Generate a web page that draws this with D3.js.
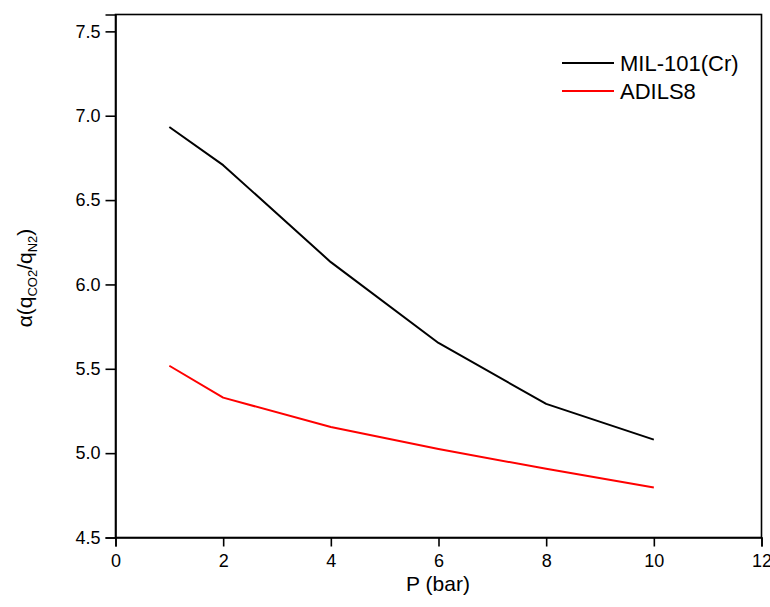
<!DOCTYPE html>
<html>
<head>
<meta charset="utf-8">
<script src="https://cdn.jsdelivr.net/npm/d3@7"></script>
<style>
  html, body { margin: 0; padding: 0; background: #fff; }
  svg { display: block; font-family: Arial, "Liberation Sans", sans-serif; }
</style>
</head>
<body>
<svg id="chart" width="770" height="607"></svg>
<script>
const pressure = [1, 2, 4, 6, 8, 10];
const milValues = [6.933, 6.707, 6.132, 5.653, 5.292, 5.080];
const adilsValues = [5.518, 5.329, 5.155, 5.025, 4.907, 4.797];
const seriesNames = ["MIL-101(Cr)", "ADILS8"];
const seriesColors = ["#000000", "#ff0000"];
const xTicks = [0, 2, 4, 6, 8, 10, 12];
const yTicks = [4.5, 5.0, 5.5, 6.0, 6.5, 7.0, 7.5];

const svg = d3.select("#chart");
const m = { left: 115.5, right: 770 - 761.5, top: 14.5, bottom: 607 - 537.5 };
const W = 770, H = 607;

const x = d3.scaleLinear().domain([0, 12]).range([m.left, W - m.right]);
const y = d3.scaleLinear().domain([4.5, 7.6]).range([H - m.bottom, m.top]);

// frame
svg.append("rect")
  .attr("x", m.left).attr("y", m.top)
  .attr("width", x(12) - m.left).attr("height", (H - m.bottom) - m.top)
  .attr("fill", "none").attr("stroke", "#000").attr("stroke-width", 1.6);

// x axis
const xAxis = svg.append("g")
  .attr("transform", `translate(0,${H - m.bottom})`)
  .call(d3.axisBottom(x).tickValues(xTicks).tickFormat(d3.format("d")).tickSizeOuter(0).tickSize(9).tickPadding(8));
xAxis.select(".domain").attr("stroke-width", 1.6);
xAxis.selectAll(".tick line").attr("stroke-width", 1.6);
xAxis.selectAll("text").attr("font-size", 18).attr("fill", "#000");

// y axis
const yAxis = svg.append("g")
  .attr("transform", `translate(${m.left},0)`)
  .call(d3.axisLeft(y).tickValues(yTicks).tickFormat(d3.format(".1f")).tickSizeOuter(0).tickSize(10).tickPadding(5));
yAxis.select(".domain").attr("stroke-width", 1.6);
yAxis.selectAll(".tick line").attr("stroke-width", 1.6);
yAxis.selectAll("text").attr("font-size", 18).attr("fill", "#000");

// lines
const line = d3.line().x((d, i) => x(pressure[i])).y(d => y(d));
[milValues, adilsValues].forEach((vals, k) => {
  svg.append("path")
    .datum(vals)
    .attr("d", line)
    .attr("fill", "none")
    .attr("stroke", seriesColors[k])
    .attr("stroke-width", 2)
    .attr("stroke-linejoin", "round");
});

// legend
seriesNames.forEach((name, k) => {
  const ly = 63 + k * 28;
  svg.append("line")
    .attr("x1", 562).attr("x2", 614).attr("y1", ly).attr("y2", ly)
    .attr("stroke", seriesColors[k]).attr("stroke-width", 2);
  svg.append("text")
    .attr("x", 620).attr("y", ly + 8)
    .attr("font-size", 22).attr("fill", "#000")
    .text(name);
});

// x title
svg.append("text")
  .attr("x", 438).attr("y", 590.5)
  .attr("text-anchor", "middle").attr("font-size", 21)
  .text("P (bar)");

// y title
const yt = svg.append("text")
  .attr("transform", `translate(32,${(m.top + H - m.bottom) / 2 + 2}) rotate(-90)`)
  .attr("text-anchor", "middle").attr("font-size", 21);
yt.append("tspan").text("α(q");
yt.append("tspan").attr("font-size", 13).attr("dy", 5).text("CO2");
yt.append("tspan").attr("dy", -5).text("/q");
yt.append("tspan").attr("font-size", 13).attr("dy", 5).text("N2");
yt.append("tspan").attr("dy", -5).text(")");
</script>
</body>
</html>
